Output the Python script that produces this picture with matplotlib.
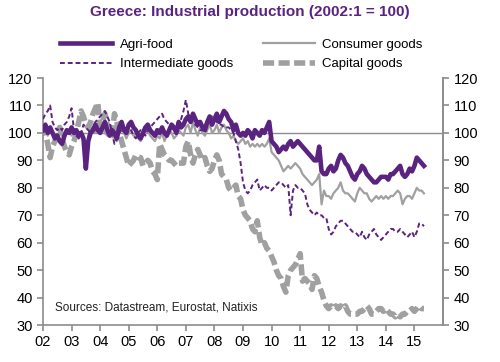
import matplotlib
matplotlib.use("Agg")
import matplotlib.pyplot as plt
import numpy as np

plt.rcParams['font.family'] = ['Liberation Sans', 'DejaVu Sans']

start_year = 2002
agri_food = [
    101, 103, 100, 102, 100, 98, 99, 97, 96, 99, 101, 100,
    102, 100, 101, 99, 100, 98, 87, 97, 100, 101, 103, 101,
    100, 102, 104, 101, 99, 101, 100, 98, 102, 104, 101, 100,
    103, 104, 102, 101, 99, 98, 100, 102, 103, 101, 100, 99,
    101, 100, 102, 100, 99, 101, 103, 102, 100, 104, 102, 103,
    105, 106, 104, 107, 105, 103, 104, 102, 101, 104, 106, 103,
    105, 107, 104, 106, 108, 107, 105, 104, 101, 103, 100, 99,
    100, 99, 101, 100, 98, 101, 100, 99, 101, 100, 102, 104,
    97, 96, 95, 93, 94, 95, 94, 96, 97, 95, 96, 97,
    96, 95, 94, 93, 92, 91, 90, 90, 95, 86, 85, 85,
    87, 88, 86, 87, 90, 92, 91, 89, 88, 86, 84, 83,
    85, 86, 88, 87, 85, 84, 83, 82, 82, 83, 84, 84,
    84, 83, 85, 85, 86, 87, 88, 85, 84, 85, 87, 86,
    88, 91, 90, 89, 88,
]
consumer_goods = [
    100, 102, 99, 101, 100, 99, 98, 100, 99, 98, 100, 101,
    99, 101, 100, 98, 99, 97, 90, 99, 102, 101, 100, 103,
    101, 102, 100, 99, 101, 100, 98, 97, 100, 102, 100, 98,
    100, 101, 99, 100, 98, 97, 99, 100, 101, 99, 98, 97,
    99, 98, 100, 97, 99, 101, 100, 98, 99, 101, 100, 99,
    102, 103, 100, 104, 101, 99, 102, 100, 99, 101, 103, 100,
    101, 103, 100, 102, 103, 101, 100, 98, 99, 97, 96, 97,
    98, 96, 97, 95, 96, 95, 96, 95, 96, 95, 96, 98,
    93, 92, 91, 90, 88, 86, 87, 88, 87, 88, 89, 88,
    87, 85, 84, 83, 82, 81, 82, 83, 85, 74, 79, 77,
    77, 76, 78, 79, 80, 82, 79, 78, 78, 77, 76, 75,
    78, 80, 79, 78, 78, 76, 75, 76, 77, 76, 77, 76,
    77, 76, 77, 77, 78, 79, 78, 74, 76, 77, 77, 76,
    78, 80, 79, 79, 78,
]
intermediate_goods = [
    105, 107, 108, 110, 104, 102, 101, 102, 101, 103, 104, 106,
    109, 101, 99, 98, 100, 103, 102, 101, 100, 102, 104, 105,
    106, 107, 108, 106, 104, 100, 96, 98, 100, 101, 102, 101,
    103, 101, 99, 98, 100, 101, 100, 99, 101, 102, 103, 104,
    105, 106, 107, 105, 104, 103, 102, 101, 100, 101, 105, 108,
    112, 107, 105, 104, 103, 102, 101, 101, 103, 104, 105, 106,
    105, 104, 103, 103, 102, 102, 102, 101, 100, 97, 94, 89,
    82, 79, 78, 79, 81, 82, 83, 79, 80, 81, 80, 80,
    79, 80, 81, 82, 82, 81, 80, 81, 70, 79, 81, 80,
    80, 79, 78, 74, 72, 71, 70, 71, 70, 70, 69, 69,
    65, 63, 64, 66, 67, 68, 68, 67, 66, 65, 64, 64,
    63, 62, 64, 62, 61, 63, 64, 65, 63, 62, 61, 62,
    63, 64, 65, 65, 64, 64, 65, 64, 63, 62, 63, 64,
    62, 64, 67, 67, 66,
]
capital_goods = [
    103, 100, 96, 91, 95, 97, 99, 102, 98, 95, 93, 92,
    95, 97, 100, 104, 108, 106, 103, 102, 104, 107, 109, 111,
    102, 104, 107, 103, 99, 99, 107, 104, 100, 97, 94, 91,
    88, 89, 90, 92, 91, 91, 88, 89, 90, 89, 86, 85,
    83, 96, 94, 92, 91, 90, 90, 89, 88, 89, 89, 89,
    95, 97, 92, 89, 92, 94, 92, 90, 91, 88, 86, 87,
    90, 92, 90, 85, 84, 83, 80, 79, 80, 81, 77, 76,
    72, 70, 69, 68, 65, 64, 68, 62, 59, 60, 58, 57,
    55, 53, 50, 48, 47, 44, 42, 48, 50, 51, 52, 54,
    56, 46, 47, 46, 45, 43, 48, 47, 44, 42, 39, 37,
    36, 37, 36, 37, 36, 37, 36, 37, 35, 34, 34, 34,
    34, 35, 35, 36, 37, 36, 34, 34, 35, 36, 36, 35,
    36, 35, 34, 34, 33, 34, 33, 34, 34, 35, 35, 36,
    35, 36, 37, 36, 36,
]
year_ticks = list(range(2002, 2016))
year_labels = ['%02d' % (y % 100) for y in year_ticks]
y_ticks = [30, 40, 50, 60, 70, 80, 90, 100, 110, 120]

PURPLE = '#5B2380'
GRAY = '#A0A0A0'
AXGRAY = '#8C8C8C'

n = len(agri_food)
x = start_year + np.arange(n) / 12.0

fig = plt.figure(figsize=(5.0, 3.62), dpi=100)
ax = fig.add_axes([0.086, 0.102, 0.80, 0.6825])

ax.axhline(100, color=AXGRAY, lw=1.0, zorder=1)
ax.plot(x, capital_goods, color=GRAY, lw=4.0, dashes=(2.0, 0.8), zorder=2,
        label='Capital goods')
ax.plot(x, consumer_goods, color=GRAY, lw=1.6, zorder=3, label='Consumer goods')
ax.plot(x, agri_food, color=PURPLE, lw=3.3, zorder=4, label='Agri-food')
ax.plot(x, intermediate_goods, color=PURPLE, lw=1.4, dashes=(2.5, 1.5), zorder=5,
        label='Intermediate goods')

ax.set_xlim(2002, 2016)
ax.set_ylim(30, 120)
ax.set_xticks(year_ticks)
ax.set_xticklabels(year_labels)
ax.set_yticks(y_ticks)

ax.spines['top'].set_visible(False)
for s in ['left', 'right', 'bottom']:
    ax.spines[s].set_color(AXGRAY)
    ax.spines[s].set_linewidth(1.2)
ax.tick_params(axis='both', colors=AXGRAY, labelcolor='black', labelsize=10.5,
               length=4, width=1.2, direction='out')

ax2 = ax.twinx()
ax2.set_ylim(30, 120)
ax2.set_yticks(y_ticks)
for s in ['top', 'left', 'bottom']:
    ax2.spines[s].set_visible(False)
ax2.spines['right'].set_color(AXGRAY)
ax2.spines['right'].set_linewidth(1.2)
ax2.tick_params(axis='y', colors=AXGRAY, labelcolor='black', labelsize=10.5,
                length=4, width=1.2, direction='out')

handles, labels = ax.get_legend_handles_labels()
order = [labels.index(l) for l in ['Agri-food', 'Intermediate goods',
                                   'Consumer goods', 'Capital goods']]
leg = fig.legend([handles[i] for i in order], [labels[i] for i in order],
                 ncol=2, loc='center', bbox_to_anchor=(0.483, 0.85),
                 frameon=False, fontsize=9.5, handlelength=3.9,
                 handletextpad=0.6, columnspacing=2.3, labelspacing=0.55)

ax.text(0.03, 0.07, 'Sources: Datastream, Eurostat, Natixis', transform=ax.transAxes,
        fontsize=8.5, color='#222222', ha='left', va='center')

fig.suptitle('Greece: Industrial production (2002:1 = 100)', x=0.5, y=0.985,
             fontsize=11, fontweight='bold', color=PURPLE, va='top')

fig.savefig('out.png', dpi=100)
